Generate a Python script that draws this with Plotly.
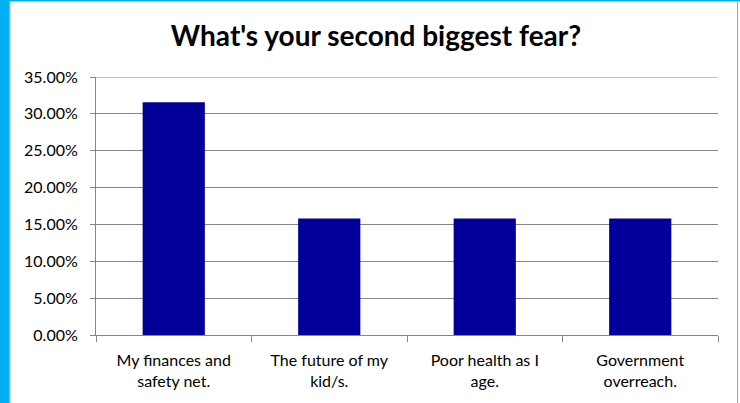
import plotly.graph_objects as go

categories = ["My finances and<br>safety net.", "The future of my<br>kid/s.", "Poor health as I<br>age.", "Government<br>overreach."]
values = [0.3158, 0.1579, 0.1579, 0.1579]
y_ticks = [0, 0.05, 0.10, 0.15, 0.20, 0.25, 0.30, 0.35]

W, H = 740, 403
L, R, T, B = 96, 22, 77, 68
pw, ph = W - L - R, H - T - B

def px(x):
    return (x - L) / pw

def py(y):
    return (H - B - y) / ph

fig = go.Figure(go.Bar(x=categories, y=values, marker=dict(color="#000099", line=dict(width=0)), width=0.4))

fig.update_layout(
    width=W, height=H,
    margin=dict(l=L, r=R, t=T, b=B),
    paper_bgcolor="white", plot_bgcolor="white",
    showlegend=False,
    title=dict(text="<b>What's your second biggest fear?</b>", x=376 / W, xanchor="center",
               y=1 - 36 / H, yanchor="middle",
               font=dict(family="Lato", size=28, color="black")),
    font=dict(family="Lato", size=16, color="black"),
    bargap=0.6,
    xaxis=dict(type="category", showgrid=False, showline=True, linecolor="#868686", linewidth=1,
               ticks="outside", tickson="boundaries", ticklen=6, tickcolor="#868686",
               tickfont=dict(size=16), ticklabelstandoff=11, range=[-0.5, 3.5]),
    yaxis=dict(range=[0, 0.35], tickvals=y_ticks, tickformat=".2%", showgrid=True, gridcolor="#868686",
               gridwidth=1, showline=True, linecolor="#868686", linewidth=1, ticks="outside",
               ticklen=5, tickcolor="#868686", tickfont=dict(size=16), ticklabelstandoff=9,
               zeroline=False),
    shapes=[
        dict(type="line", xref="paper", yref="y", x0=0, x1=1, y0=0.35, y1=0.35,
             line=dict(color="#868686", width=1), layer="below"),
        dict(type="rect", xref="paper", yref="paper", x0=px(0), x1=px(9.5), y0=py(H), y1=py(0),
             fillcolor="#00B0F0", line=dict(width=0), layer="above"),
        dict(type="rect", xref="paper", yref="paper", x0=px(0), x1=px(W), y0=py(1.5), y1=py(0),
             fillcolor="#00B0F0", line=dict(width=0), layer="above"),
        dict(type="line", xref="paper", yref="paper", x0=px(10), x1=px(10), y0=py(H), y1=py(1.5),
             line=dict(color="#A0A0A0", width=1)),
        dict(type="line", xref="paper", yref="paper", x0=px(737.5), x1=px(737.5), y0=py(H), y1=py(1.5),
             line=dict(color="#A0A0A0", width=1)),
    ],
)

fig.write_html("out.html")
